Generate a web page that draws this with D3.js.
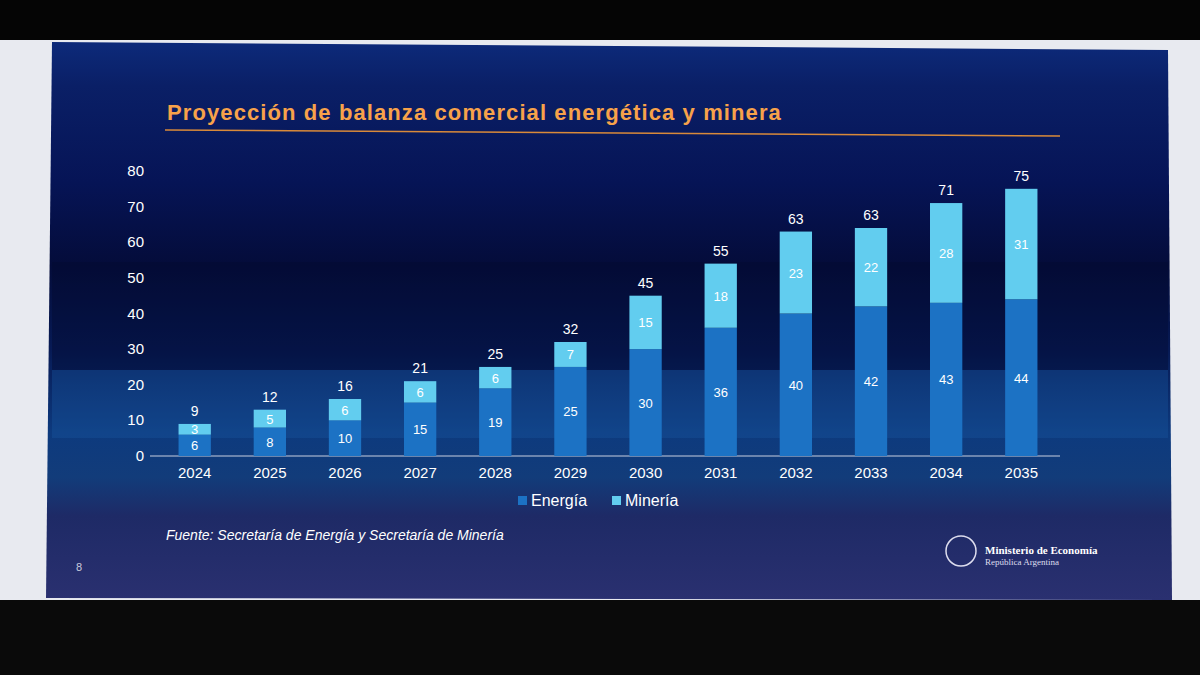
<!DOCTYPE html><html><head><meta charset="utf-8">
<script src="https://cdn.jsdelivr.net/npm/d3@7"></script>
<style>body{margin:0;background:#000}svg{display:block}</style></head><body>
<svg id="c" width="1200" height="675"></svg>
<script>
const years=["2024","2025","2026","2027","2028","2029","2030","2031","2032","2033","2034","2035"];
const energia=[6,8,10,15,19,25,30,36,40,42,43,44];
const mineria=[3,5,6,6,6,7,15,18,23,22,28,31];
const totals=[9,12,16,21,25,32,45,55,63,63,71,75];
const yTicks=[0,10,20,30,40,50,60,70,80];
const svg=d3.select("#c");
svg.append("rect").attr("width",1200).attr("height",675).attr("fill","#050505");
svg.append("rect").attr("x",0).attr("y",40).attr("width",1200).attr("height",560).attr("fill","#e8eaf0");
const defs=svg.append("defs");
const g=defs.append("linearGradient").attr("id","bg").attr("x1",0).attr("y1",0).attr("x2",0).attr("y2",1);
[[0,"#0d2a7a"],[0.08,"#0a1f66"],[0.25,"#061456"],[0.4,"#040c3a"],[0.55,"#071a55"],[0.7,"#0d3a7e"],[0.78,"#123c7a"],[0.85,"#1e2a66"],[1,"#2a3070"]].forEach(s=>g.append("stop").attr("offset",s[0]).attr("stop-color",s[1]));
svg.append("path").attr("d","M52,42 L1168,50 L1172,600 L46,598 Z").attr("fill","url(#bg)");
svg.append("rect").attr("x",52).attr("y",370).attr("width",1116).attr("height",68).attr("fill","#1a5aa0").attr("opacity",0.35);
svg.append("rect").attr("x",52).attr("y",262).attr("width",1116).attr("height",108).attr("fill","#020a30").attr("opacity",0.4);
svg.append("text").attr("x",167).attr("y",120).text("Proyección de balanza comercial energética y minera")
 .attr("fill","#f7a24a").attr("font-family","Liberation Sans, Arial").attr("font-weight","bold").attr("font-size",22).attr("letter-spacing",1.1);
svg.append("line").attr("x1",165).attr("x2",1060).attr("y1",130).attr("y2",136).attr("stroke","#d98a3a").attr("stroke-width",1.5);
const x=d3.scaleBand().domain(years).range([156,1060]).paddingInner(0.57).paddingOuter(0.3);
const y=d3.scaleLinear().domain([0,80]).range([456,171]);
const F="Liberation Sans, Arial";
svg.append("line").attr("x1",150).attr("x2",1060).attr("y1",y(0)).attr("y2",y(0)).attr("stroke","#c8cfe0").attr("stroke-width",1);
svg.selectAll(".yt").data(yTicks).join("text").attr("x",144).attr("y",d=>y(d)+5).attr("text-anchor","end")
 .attr("fill","#fff").attr("font-family",F).attr("font-size",15).text(d=>d);
svg.selectAll(".xt").data(years).join("text").attr("x",d=>x(d)+x.bandwidth()/2).attr("y",478).attr("text-anchor","middle")
 .attr("fill","#fff").attr("font-family",F).attr("font-size",15).text(d=>d);
const bw=x.bandwidth();
years.forEach((yr,i)=>{
 const cx=x(yr);
 svg.append("rect").attr("x",cx).attr("width",bw).attr("y",y(energia[i])).attr("height",y(0)-y(energia[i])).attr("fill","#1c72c4");
 svg.append("rect").attr("x",cx).attr("width",bw).attr("y",y(energia[i]+mineria[i])).attr("height",y(0)-y(mineria[i])).attr("fill","#62cdef");
 svg.append("text").attr("x",cx+bw/2).attr("y",(y(0)+y(energia[i]))/2+5).attr("text-anchor","middle").attr("fill","#fff").attr("font-family",F).attr("font-size",13).text(energia[i]);
 svg.append("text").attr("x",cx+bw/2).attr("y",(y(energia[i])+y(energia[i]+mineria[i]))/2+5).attr("text-anchor","middle").attr("fill","#fff").attr("font-family",F).attr("font-size",13).text(mineria[i]);
 svg.append("text").attr("x",cx+bw/2).attr("y",y(energia[i]+mineria[i])-8).attr("text-anchor","middle").attr("fill","#fff").attr("font-family",F).attr("font-size",14).text(totals[i]);
});
const leg=[["Energía","#1c72c4",518],["Minería","#62cdef",612]];
leg.forEach(l=>{svg.append("rect").attr("x",l[2]).attr("y",496).attr("width",9).attr("height",9).attr("fill",l[1]);
 svg.append("text").attr("x",l[2]+13).attr("y",506).attr("fill","#fff").attr("font-family",F).attr("font-size",16).text(l[0]);});
svg.append("text").attr("x",166).attr("y",540).attr("fill","#fff").attr("font-family",F).attr("font-style","italic").attr("font-size",14).text("Fuente: Secretaría de Energía y Secretaría de Minería");
svg.append("text").attr("x",76).attr("y",571).attr("fill","#ccd").attr("font-family",F).attr("font-size",11).text("8");
svg.append("circle").attr("cx",961).attr("cy",551).attr("r",15).attr("fill","none").attr("stroke","#dde").attr("stroke-width",1.5);
svg.append("text").attr("x",985).attr("y",554).attr("fill","#fff").attr("font-family","Liberation Serif, serif").attr("font-weight","bold").attr("font-size",11).text("Ministerio de Economía");
svg.append("text").attr("x",985).attr("y",565).attr("fill","#dde").attr("font-family","Liberation Serif, serif").attr("font-size",9).text("República Argentina");
svg.append("rect").attr("x",0).attr("y",600).attr("width",1200).attr("height",75).attr("fill","#0a0a0a");
</script></body></html>
